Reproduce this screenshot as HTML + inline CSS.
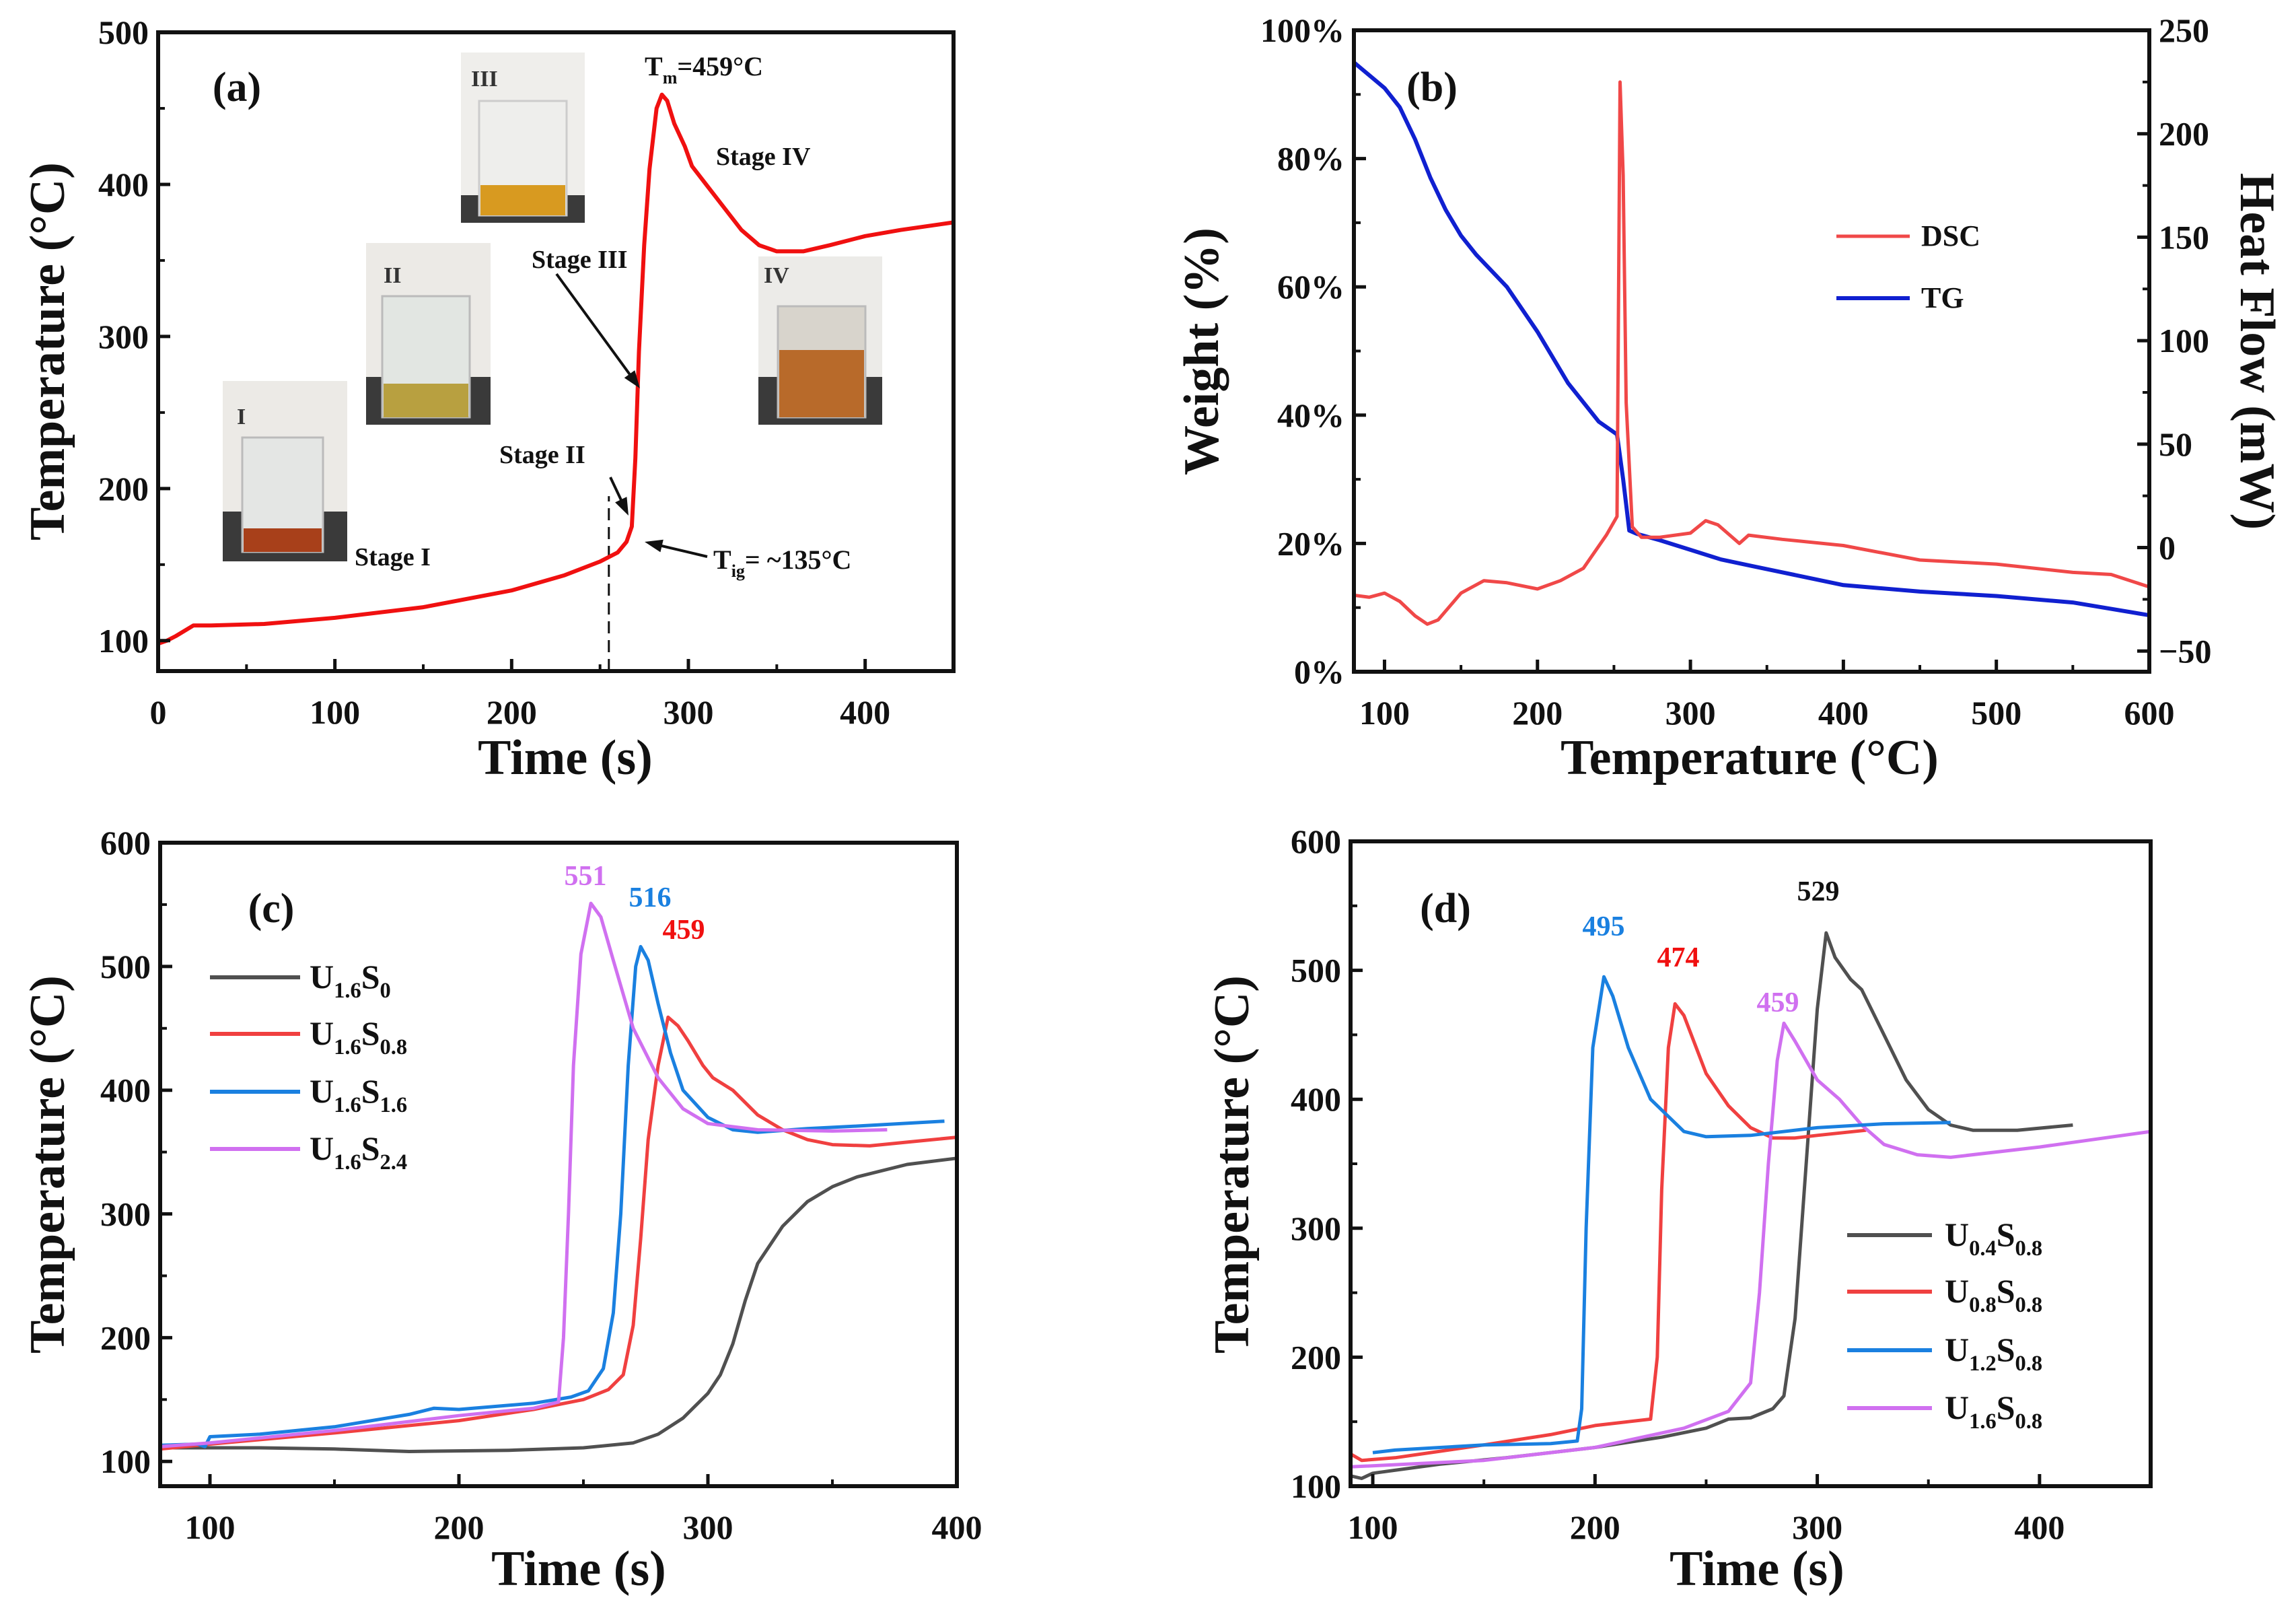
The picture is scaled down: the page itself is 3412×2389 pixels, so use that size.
<!DOCTYPE html>
<html><head><meta charset="utf-8">
<style>
html,body{margin:0;padding:0;background:#fff;}
svg{display:block;font-family:"Liberation Serif",serif;font-weight:bold;}
</style></head>
<body>
<svg id="fig" width="3412" height="2389" viewBox="0 0 3412 2389" xmlns="http://www.w3.org/2000/svg">
<rect width="3412" height="2389" fill="#fff"/>
<g>
<rect x="331" y="566" width="185" height="268" fill="#eceae6"/><rect x="331" y="760" width="185" height="74" fill="#3a3a3a"/>
<rect x="360" y="650" width="120" height="170" fill="#e4e6e4" stroke="#bbb" stroke-width="3"/><rect x="362" y="785" width="116" height="35" fill="#a8401a"/>
<text x="352" y="630" font-size="34" fill="#333">I</text></g>
<g>
<rect x="544" y="361" width="185" height="270" fill="#eceae6"/><rect x="544" y="560" width="185" height="71" fill="#3a3a3a"/>
<rect x="568" y="440" width="130" height="180" fill="#e2e6e2" stroke="#bbb" stroke-width="3"/><rect x="570" y="570" width="126" height="50" fill="#b8a040"/>
<text x="570" y="420" font-size="34" fill="#333">II</text></g>
<g>
<rect x="685" y="78" width="184" height="253" fill="#efeeeb"/><rect x="685" y="290" width="184" height="41" fill="#3a3a3a"/>
<rect x="712" y="150" width="130" height="170" fill="#eeeeec" stroke="#ccc" stroke-width="3"/><rect x="714" y="275" width="126" height="45" fill="#d89a20"/>
<text x="700" y="128" font-size="34" fill="#333">III</text></g>
<g>
<rect x="1127" y="381" width="184" height="250" fill="#ecebe8"/><rect x="1127" y="560" width="184" height="71" fill="#3a3a3a"/>
<rect x="1156" y="455" width="130" height="165" fill="#d8d4cc" stroke="#bbb" stroke-width="3"/><rect x="1158" y="520" width="126" height="100" fill="#b86a2a"/>
<text x="1135" y="420" font-size="34" fill="#333">IV</text></g>
</svg>
<script>
const NS="http://www.w3.org/2000/svg";
const svg=document.getElementById('fig');
const aTime=[0,5,10,20,30,60,100,150,200,230,250,260,265,268,270,272,275,278,282,285,288,292,298,302,310,320,330,340,350,365,380,400,420,450];
const aTemp=[98,100,103,110,110,111,115,122,133,143,152,158,165,175,220,290,360,410,450,459,455,440,425,412,400,385,370,360,356,356,360,366,370,375];
const bTgT=[80,90,100,110,120,130,140,150,160,180,200,220,240,252,256,260,265,280,300,320,340,360,400,450,500,550,600];
const bTgW=[95,93,91,88,83,77,72,68,65,60,53,45,39,37,30,22,21.5,20.5,19,17.5,16.5,15.5,13.5,12.5,11.8,10.8,8.8];
const bDscT=[80,90,100,110,120,128,135,150,165,180,200,215,230,245,252,254,256,258,262,268,280,300,310,318,332,338,360,400,450,500,550,575,600];
const bDscH=[-23,-24,-22,-26,-33,-37,-35,-22,-16,-17,-20,-16,-10,6,15,225,180,70,10,5,5,7,13,11,2,6,4,1,-6,-8,-12,-13,-19];
const cS0t=[80,120,150,180,220,250,270,280,290,300,305,310,315,320,330,340,350,360,380,400];
const cS0y=[111,111,110,108,109,111,115,122,135,155,170,195,230,260,290,310,322,330,340,345];
const cS08t=[80,100,150,200,230,250,260,266,270,273,276,280,284,288,292,298,302,310,320,330,340,350,365,380,400];
const cS08y=[110,114,123,133,142,150,158,170,210,280,360,420,459,452,440,420,410,400,380,368,360,356,355,358,362];
const cS16t=[80,95,98,100,120,150,180,190,200,230,245,252,258,262,265,268,271,273,276,280,285,290,300,310,320,340,360,395];
const cS16y=[113,114,112,120,122,128,138,143,142,147,152,157,175,220,300,420,500,516,505,470,430,400,378,368,366,369,371,375];
const cS24t=[80,100,150,200,230,240,242,244,246,249,253,257,262,270,280,290,300,320,350,372];
const cS24y=[112,115,125,137,143,148,200,300,420,510,551,540,505,450,410,385,373,368,367,368];
const dU04t=[90,95,100,130,160,200,230,250,260,270,280,285,290,295,300,304,308,315,320,330,340,350,360,370,390,415];
const dU04y=[108,106,110,117,122,130,138,145,152,153,160,170,230,350,470,529,510,493,485,450,415,392,380,376,376,380];
const dU08t=[90,95,110,150,180,200,215,225,228,230,233,236,240,250,260,270,280,290,300,322];
const dU08y=[125,120,122,132,140,147,150,152,200,330,440,474,465,420,395,378,370,370,372,376];
const dU12t=[100,110,150,180,192,194,196,199,204,208,215,225,240,250,270,300,330,360];
const dU12y=[126,128,132,133,135,160,300,440,495,480,440,400,375,371,372,378,381,382];
const dU16t=[90,150,200,240,260,270,274,278,282,285,290,300,310,320,330,345,360,400,450];
const dU16y=[115,120,130,145,158,180,250,350,430,459,445,415,400,380,365,357,355,363,375];
const aXTicks=[0,100,200,300,400], aYTicks=[100,200,300,400,500];
const bXTicks=[100,200,300,400,500,600], bYTicks=[0,20,40,60,80,100], bRTicks=[-50,0,50,100,150,200,250];
const cXTicks=[100,200,300,400], cYTicks=[100,200,300,400,500,600];
const dXTicks=[100,200,300,400], dYTicks=[100,200,300,400,500,600];

function el(tag,attrs,parent){const e=document.createElementNS(NS,tag);for(const k in attrs)e.setAttribute(k,attrs[k]);(parent||svg).appendChild(e);return e;}
function mkScale(d0,d1,r0,r1){return v=>r0+(v-d0)/(d1-d0)*(r1-r0);}
function line(xs,ys,sx,sy,color,w,name){
  let d='';for(let i=0;i<xs.length;i++)d+=(i?'L':'M')+sx(xs[i]).toFixed(1)+','+sy(ys[i]).toFixed(1);
  const p=el('path',{d:d,fill:'none',stroke:color,'stroke-width':w,'stroke-linejoin':'round'});
  
  
  return p;
}
function txt(x,y,s,size,attrs,name){const t=el('text',Object.assign({x:x,y:y,'font-size':size},attrs||{}));t.textContent=s;
  
  
  return t;}
// parts: [text, dy, isSub]
function sub(x,y,parts,size,fill,name){
  const t=el('text',{x:x,y:y,'font-size':size,fill:fill||'#111'});
  
  
  parts.forEach(p=>{const a={};if(p[1])a.dy=p[1];a['font-size']=p[2]?size*0.65:size;const s=el('tspan',a,t);s.textContent=p[0];});
  return t;}
function frame(x0,y0,x1,y1,name){
  const r=el('rect',{x:x0,y:y0,width:x1-x0,height:y1-y0,fill:'none',stroke:'#111','stroke-width':6});
  
  
}
function xticks(ticks,sx,y1,y0,labels,name){
  for(let i=0;i<ticks.length;i++){const x=sx(ticks[i]);
    el('line',{x1:x,y1:y1,x2:x,y2:y1-18,stroke:'#111','stroke-width':5});
    if(i<ticks.length-1){const xm=sx((ticks[i]+ticks[i+1])/2);el('line',{x1:xm,y1:y1,x2:xm,y2:y1-10,stroke:'#111','stroke-width':4});}
    txt(x,y1+78,labels?labels[i]:String(ticks[i]),50,{'text-anchor':'middle',fill:'#111'},name+'-tick-label');}
}
function yticks(ticks,sy,x0,labels,name,right){
  for(let i=0;i<ticks.length;i++){const y=sy(ticks[i]);
    el('line',{x1:x0,y1:y,x2:right?x0-18:x0+18,y2:y,stroke:'#111','stroke-width':5});
    if(i<ticks.length-1){const ym=sy((ticks[i]+ticks[i+1])/2);el('line',{x1:x0,y1:ym,x2:right?x0-10:x0+10,y2:ym,stroke:'#111','stroke-width':4});}
    txt(right?x0+14:x0-14,y+17,labels?labels[i]:String(ticks[i]),50,{'text-anchor':right?'start':'end',fill:'#111'},name+'-tick-label');}
}
function vtitle(x,y,s,name,rot){const t=txt(x,y,s,74,{'text-anchor':'middle',fill:'#111',transform:'rotate('+(rot||-90)+' '+x+' '+y+')'},name);return t;}

{const X0=235,X1=1417,Y0=48,Y1=997;const sx=mkScale(0,450,X0,X1),sy=mkScale(80,500,Y1,Y0);
 el('line',{x1:sx(255),y1:Y1,x2:sx(255),y2:sy(195),stroke:'#111','stroke-width':3,'stroke-dasharray':'18,10'});
 line(aTime,aTemp,sx,sy,'#f01010',6,'series-a-temperature');
 frame(X0,Y0,X1,Y1,'panel-a-frame');xticks(aXTicks,sx,Y1,Y0,null,'panel-a-x');yticks(aYTicks,sy,X0,null,'panel-a-y');
 txt(352,150,'(a)',62,{'text-anchor':'middle',fill:'#111'},'panel-a-label');
 vtitle(95,522,'Temperature (°C)','panel-a-y-title');
 txt(840,1150,'Time (s)',74,{'text-anchor':'middle',fill:'#111'},'panel-a-x-title');
 sub(958,112,[['T',0,false],['m',12,true],['=459°C',-12,false]],40,'#111','annotation-tm');
 txt(1064,245,'Stage IV',38,{fill:'#111'},'annotation-stage-4');
 txt(790,398,'Stage III',38,{fill:'#111'},'annotation-stage-3');
 txt(742,688,'Stage II',38,{fill:'#111'},'annotation-stage-2');
 txt(527,840,'Stage I',38,{fill:'#111'},'annotation-stage-1');
 sub(1060,845,[['T',0,false],['ig',12,true],['= ~135°C',-12,false]],40,'#111','annotation-tig');
 const ar=(x1,y1,x2,y2,n)=>{const a=Math.atan2(y2-y1,x2-x1),L=28,w=0.35;
   el('line',{x1:x1,y1:y1,x2:x2-Math.cos(a)*18,y2:y2-Math.sin(a)*18,stroke:'#111','stroke-width':4});
   const p=el('polygon',{points:`${x2},${y2} ${x2-L*Math.cos(a-w)},${y2-L*Math.sin(a-w)} ${x2-L*Math.cos(a+w)},${y2-L*Math.sin(a+w)}`,fill:'#111'});
   
   };
 ar(827,407,951,577,'arrow-stage-3');ar(907,709,934,766,'arrow-stage-2');ar(1051,827,958,805,'arrow-tig');
}
{const X0=2012,X1=3194,Y0=45,Y1=998;const sx=mkScale(80,600,X0,X1),sy=mkScale(0,100,Y1,Y0),sr=mkScale(-60,250,Y1,Y0);
 line(bTgT,bTgW,sx,sy,'#1020d0',6,'series-tg');
 line(bDscT,bDscH,sx,sr,'#f04848',5,'series-dsc');
 frame(X0,Y0,X1,Y1,'panel-b-frame');xticks(bXTicks,sx,Y1,Y0,null,'panel-b-x');
 yticks(bYTicks,sy,X0,bYTicks.map(v=>v+'%'),'panel-b-y-left');yticks(bRTicks,sr,X1,bRTicks.map(v=>v<0?'−'+(-v):String(v)),'panel-b-y-right',true);
 txt(2128,150,'(b)',62,{'text-anchor':'middle',fill:'#111'},'panel-b-label');
 vtitle(1810,522,'Weight (%)','panel-b-y-left-title');
 vtitle(3330,522,'Heat Flow (mW)','panel-b-y-right-title',90);
 txt(2600,1150,'Temperature (°C)',74,{'text-anchor':'middle',fill:'#111'},'panel-b-x-title');
 const l1=el('line',{x1:2729,y1:351,x2:2838,y2:351,stroke:'#f04848','stroke-width':5});
 const l2=el('line',{x1:2729,y1:443,x2:2838,y2:443,stroke:'#1020d0','stroke-width':6});
 txt(2855,365,'DSC',44,{fill:'#111'},'legend-dsc');txt(2855,457,'TG',44,{fill:'#111'},'legend-tg');
}
{const X0=238,X1=1422,Y0=1252,Y1=2208;const sx=mkScale(80,400,X0,X1),sy=mkScale(80,600,Y1,Y0);
 line(cS0t,cS0y,sx,sy,'#505050',5,'series-u16s0');
 line(cS08t,cS08y,sx,sy,'#f04040',5,'series-u16s08');
 line(cS16t,cS16y,sx,sy,'#1a80e0',5,'series-u16s16');
 line(cS24t,cS24y,sx,sy,'#d070f0',5,'series-u16s24');
 frame(X0,Y0,X1,Y1,'panel-c-frame');xticks(cXTicks,sx,Y1,Y0,null,'panel-c-x');yticks(cYTicks,sy,X0,null,'panel-c-y');
 txt(403,1370,'(c)',62,{'text-anchor':'middle',fill:'#111'},'panel-c-label');
 vtitle(95,1730,'Temperature (°C)','panel-c-y-title');
 txt(860,2355,'Time (s)',74,{'text-anchor':'middle',fill:'#111'},'panel-c-x-title');
 txt(870,1315,'551',42,{'text-anchor':'middle',fill:'#d070f0'},'peak-label-551');
 txt(966,1347,'516',42,{'text-anchor':'middle',fill:'#1a80e0'},'peak-label-516');
 txt(1016,1395,'459',42,{'text-anchor':'middle',fill:'#f01010'},'peak-label-459');
 const L=[['#505050','0'],['#f04040','0.8'],['#1a80e0','1.6'],['#d070f0','2.4']];const ly=[1452,1536,1622,1707];
 L.forEach((l,i)=>{const g=el('line',{x1:312,y1:ly[i],x2:446,y2:ly[i],stroke:l[0],'stroke-width':6});
   
   sub(460,ly[i]+16,[['U',0,false],['1.6',14,true],['S',-14,false],[l[1],14,true]],50,'#111','legend-c-label');});
}
{const X0=2007,X1=3196,Y0=1250,Y1=2208;const sx=mkScale(90,450,X0,X1),sy=mkScale(100,600,Y1,Y0);
 line(dU04t,dU04y,sx,sy,'#505050',5,'series-u04s08');
 line(dU08t,dU08y,sx,sy,'#f04040',5,'series-u08s08');
 line(dU16t,dU16y,sx,sy,'#d070f0',5,'series-u16s08');
 line(dU12t,dU12y,sx,sy,'#1a80e0',5,'series-u12s08');
 frame(X0,Y0,X1,Y1,'panel-d-frame');xticks(dXTicks,sx,Y1,Y0,null,'panel-d-x');yticks(dYTicks,sy,X0,null,'panel-d-y');
 txt(2148,1370,'(d)',62,{'text-anchor':'middle',fill:'#111'},'panel-d-label');
 vtitle(1855,1730,'Temperature (°C)','panel-d-y-title');
 txt(2611,2355,'Time (s)',74,{'text-anchor':'middle',fill:'#111'},'panel-d-x-title');
 txt(2383,1390,'495',42,{'text-anchor':'middle',fill:'#1a80e0'},'peak-label-495');
 txt(2494,1436,'474',42,{'text-anchor':'middle',fill:'#f01010'},'peak-label-474');
 txt(2642,1503,'459',42,{'text-anchor':'middle',fill:'#d070f0'},'peak-label-459-d');
 txt(2702,1338,'529',42,{'text-anchor':'middle',fill:'#111'},'peak-label-529');
 const L=[['#505050','0.4'],['#f04040','0.8'],['#1a80e0','1.2'],['#d070f0','1.6']];const ly=[1835,1919,2006,2092];
 L.forEach((l,i)=>{const g=el('line',{x1:2745,y1:ly[i],x2:2871,y2:ly[i],stroke:l[0],'stroke-width':6});
   
   sub(2890,ly[i]+16,[['U',0,false],[l[1],14,true],['S',-14,false],['0.8',14,true]],50,'#111','legend-d-label');});
}
</script>
</body></html>
